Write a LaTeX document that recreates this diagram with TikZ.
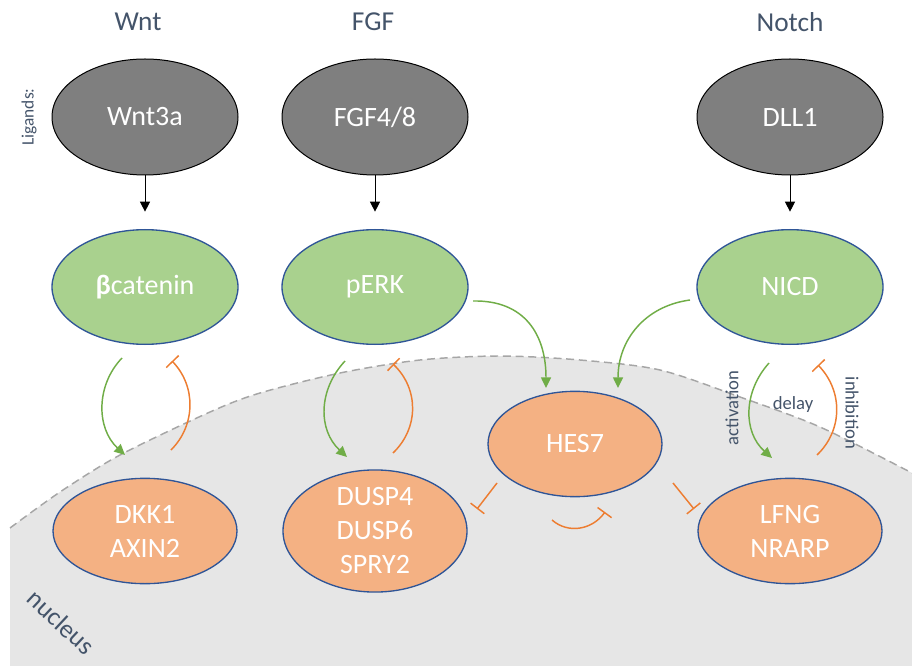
\documentclass[tikz,border=0pt]{standalone}
\usepackage{fontspec}
\setmainfont{Carlito}
\usetikzlibrary{shapes.geometric,arrows.meta}
\definecolor{txt}{HTML}{44546A}
\definecolor{ligfill}{HTML}{7F7F7F}
\definecolor{grnfill}{HTML}{A9D18E}
\definecolor{orgfill}{HTML}{F4B183}
\definecolor{bord}{HTML}{2F5597}
\definecolor{grnline}{HTML}{70AD47}
\definecolor{orgline}{HTML}{ED7D31}
\definecolor{nucfill}{HTML}{E6E6E6}
\definecolor{nucline}{HTML}{A6A6A6}
\tikzset{
  ligand/.style={ellipse, draw=black, line width=0.75pt, fill=ligfill, text=white,
    minimum width=139.5pt, minimum height=87pt, inner sep=0pt,
    font=\fontsize{21}{25}\selectfont},
  messenger/.style={ellipse, draw=bord, line width=1pt, fill=grnfill, text=white,
    minimum width=139.5pt, minimum height=86pt, inner sep=0pt,
    font=\fontsize{21}{25}\selectfont},
  target/.style={ellipse, draw=bord, line width=1pt, fill=orgfill, text=white,
    minimum width=138pt, minimum height=79pt, inner sep=0pt, align=center,
    font=\fontsize{21}{25.5}\selectfont},
  header/.style={text=txt, font=\fontsize{20.5}{24}\selectfont, inner sep=0pt},
  small/.style={text=txt, font=\fontsize{14}{16}\selectfont, inner sep=0pt},
  blk/.style={draw=black, line width=0.75pt, -{Triangle[length=7.5pt,width=7.5pt]}},
  act/.style={draw=grnline, line width=1.1pt, -{Triangle[length=8pt,width=7.5pt]}},
  inh/.style={draw=orgline, line width=1.1pt, -{Bar[width=13pt,line width=1.1pt]}},
}
\begin{document}
\begin{tikzpicture}[x=0.75pt,y=-0.75pt]
\useasboundingbox (0,0) rectangle (912,666);
% nucleus
\fill[nucfill] plot[smooth] coordinates {(10,528) (60,492) (120,455) (210,412) (260,393) (340,373) (420,360) (500,356) (580,360) (660,370) (740,397) (820,427) (912,473)} -- (912,666) -- (10,666) -- cycle;
\draw[nucline, line width=1.1pt, dash pattern=on 6pt off 3.5pt] plot[smooth] coordinates {(10,528) (60,492) (120,455) (210,412) (260,393) (340,373) (420,360) (500,356) (580,360) (660,370) (740,397) (820,427) (912,473)};
\node[text=txt, font=\fontsize{19.5}{22}\selectfont, rotate=-43, inner sep=0pt] (nuc) at (61,622) {nucleus};

% headers
\node[header] (hw) at (138,22) {Wnt};
\node[header] (hf) at (373,22) {FGF};
\node[header] (hn) at (790,22) {Notch};
\node[small, font=\fontsize{13}{15}\selectfont, rotate=90] (lg) at (29,117) {Ligands:};

% ligands
\node[ligand] (wnt) at (145,117) {Wnt3a};
\node[ligand] (fgf) at (375,117) {FGF4/8};
\node[ligand] (dll) at (790,117) {DLL1};

% messengers
\node[messenger] (bcat) at (145,287) {{\bfseries β}catenin};
\node[messenger] (perk) at (375,287) {pERK};
\node[messenger] (nicd) at (790,287) {NICD};

% targets
\node[target] (dkk) at (145,531) {DKK1\\AXIN2};
\node[target, minimum height=81pt] (dusp) at (375,531) {DUSP4\\DUSP6\\SPRY2};
\node[target] (lfng) at (790,531) {LFNG\\NRARP};
\node[target, minimum width=130.5pt] (hes) at (575,444) {HES7};

% ligand -> messenger
\draw[blk, shorten >=13pt] (wnt.south) -- (bcat.north);
\draw[blk, shorten >=13pt] (fgf.south) -- (perk.north);
\draw[blk, shorten >=13pt] (dll.south) -- (nicd.north);

% feedback loops
\coordinate (wa1) at (122,358); \coordinate (wa2) at (125,455);
\coordinate (wi1) at (171,450); \coordinate (wi2) at (172,361);
\draw[act] (wa1) .. controls (96,385) and (96,428) .. (wa2);
\draw[inh] (wi1) .. controls (196,425) and (196,386) .. (wi2);

\coordinate (fa1) at (345,361); \coordinate (fa2) at (347,457);
\coordinate (fi1) at (393,453); \coordinate (fi2) at (393,364);
\draw[act] (fa1) .. controls (318,390) and (318,430) .. (fa2);
\draw[inh] (fi1) .. controls (419,428) and (419,389) .. (fi2);

\coordinate (na1) at (769,363); \coordinate (na2) at (772,458);
\coordinate (ni1) at (817,455); \coordinate (ni2) at (818,365);
\draw[act] (na1) .. controls (743,392) and (743,432) .. (na2);
\draw[inh] (ni1) .. controls (843,430) and (843,391) .. (ni2);

\node[small, rotate=90] (lact) at (732,408) {activation};
\node[small] (ldel) at (793,405) {delay};
\node[small, rotate=-90] (linh) at (852,413) {inhibition};

% to HES7
\coordinate (p1) at (473,301); \coordinate (h1) at (546,388);
\coordinate (n1) at (690,300); \coordinate (h2) at (618,388);
\draw[act] (p1) .. controls (525,300) and (546,335) .. (h1);
\draw[act] (n1) .. controls (645,306) and (618,340) .. (h2);

% HES7 inhibitions
\coordinate (hd1) at (497,483); \coordinate (hd2) at (477,509);
\draw[inh] (hd1) -- (hd2);
\coordinate (hl1) at (673,483); \coordinate (hl2) at (694,509);
\draw[inh] (hl1) -- (hl2);
\coordinate (hs1) at (552,520); \coordinate (hs2) at (605,512);
\draw[inh] (hs1) .. controls (568,534) and (592,530) .. (hs2);
\end{tikzpicture}
\end{document}
